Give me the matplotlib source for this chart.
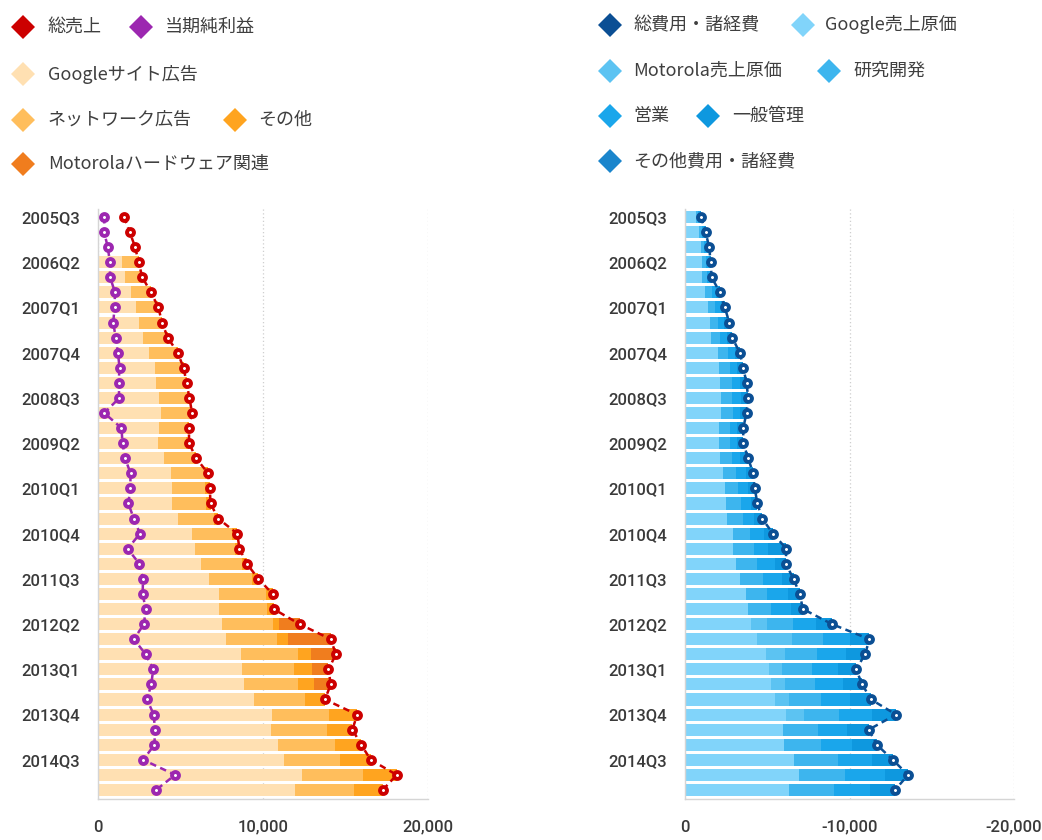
import numpy as np
import matplotlib
matplotlib.use("Agg")
import matplotlib.pyplot as plt
from matplotlib.ticker import FuncFormatter

# ---------------- data (USD millions) ----------------
quarters = ["2005Q3", "2005Q4", "2006Q1", "2006Q2", "2006Q3", "2006Q4",
            "2007Q1", "2007Q2", "2007Q3", "2007Q4", "2008Q1", "2008Q2",
            "2008Q3", "2008Q4", "2009Q1", "2009Q2", "2009Q3", "2009Q4",
            "2010Q1", "2010Q2", "2010Q3", "2010Q4", "2011Q1", "2011Q2",
            "2011Q3", "2011Q4", "2012Q1", "2012Q2", "2012Q3", "2012Q4",
            "2013Q1", "2013Q2", "2013Q3", "2013Q4", "2014Q1", "2014Q2",
            "2014Q3", "2014Q4", "2015Q1"]

total_revenue = [1578, 1919, 2254, 2456, 2690, 3206, 3664, 3872, 4231, 4827,
                 5186, 5367, 5541, 5701, 5509, 5523, 5945, 6674, 6775, 6820,
                 7286, 8440, 8575, 9026, 9720, 10584, 10645, 12214, 14101, 14419,
                 13969, 14105, 13754, 15707, 15420, 15955, 16523, 18103, 17258]
net_income = [381, 372, 592, 721, 733, 1031, 1002, 925, 1070, 1206,
              1307, 1247, 1290, 382, 1423, 1485, 1639, 1974, 1955, 1840,
              2167, 2543, 1798, 2505, 2729, 2705, 2890, 2785, 2176, 2886,
              3346, 3228, 2970, 3376, 3452, 3422, 2739, 4676, 3515]

google_sites = [None, None, None, 1430, 1630, 2030, 2320, 2470, 2740, 3120,
                3430, 3530, 3700, 3815, 3692, 3653, 4000, 4418, 4460, 4500,
                4830, 5670, 5880, 6230, 6740, 7330, 7350, 7540, 7740, 8670,
                8700, 8870, 9430, 10550, 10469, 10935, 11252, 12370, 11930]
network = [None, None, None, 999, 1030, 1140, 1300, 1360, 1430, 1620,
           1660, 1740, 1756, 1770, 1718, 1684, 1792, 2040, 2040, 2060,
           2200, 2470, 2430, 2480, 2600, 2830, 2880, 3090, 3090, 3430,
           3200, 3230, 3120, 3450, 3400, 3420, 3430, 3690, 3590]
other_rev = [None, None, None, 27, 30, 36, 44, 42, 61, 87,
             96, 97, 85, 116, 99, 186, 153, 216, 275, 260,
             256, 300, 265, 316, 380, 424, 415, 334, 695, 805,
             1051, 1007, 1204, 1707, 1551, 1600, 1841, 2043, 1738]
motorola_hw = [None, None, None, 0, 0, 0, 0, 0, 0, 0,
               0, 0, 0, 0, 0, 0, 0, 0, 0, 0,
               0, 0, 0, 0, 0, 0, 0, 1250, 2576, 1514,
               1018, 998, 0, 0, 0, 0, 0, 0, 0]

cogs_google = [669, 840, 950, 1010, 1040, 1230, 1420, 1500, 1590, 2010,
               2080, 2150, 2170, 2160, 2080, 2060, 2120, 2320, 2420, 2480,
               2530, 2930, 2940, 3130, 3330, 3680, 3800, 4000, 4400, 4900,
               5100, 5250, 5450, 6160, 5960, 6000, 6630, 6900, 6300]
cogs_motorola = [0, 0, 0, 0, 0, 0, 0, 0, 0, 0,
                 0, 0, 0, 0, 0, 0, 0, 0, 0, 0,
                 0, 0, 0, 0, 0, 0, 0, 1000, 2100, 1200,
                 800, 850, 900, 1100, 0, 0, 0, 0, 0]
rnd = [140, 180, 230, 255, 270, 390, 430, 520, 560, 600,
       640, 710, 710, 730, 650, 680, 720, 790, 820, 900,
       990, 1050, 1230, 1230, 1400, 1300, 1440, 1540, 1880, 1940,
       1840, 1810, 1890, 2130, 2130, 2240, 2660, 2810, 2750]
sales_mkt = [95, 125, 160, 165, 180, 270, 310, 380, 400, 420,
             470, 500, 520, 480, 440, 440, 520, 600, 600, 620,
             700, 840, 900, 1090, 1150, 1260, 1200, 1450, 1660, 1750,
             1590, 1700, 1820, 2000, 1730, 1940, 2100, 2450, 2170]
gen_admin = [66, 105, 130, 130, 130, 230, 260, 290, 320, 300,
             350, 380, 440, 370, 370, 360, 480, 430, 400, 400,
             470, 530, 1090, 670, 720, 730, 730, 940, 1170, 1160,
             1070, 1160, 1250, 1440, 1350, 1480, 1240, 1400, 1550]
other_cost = [0] * 39

rev_series = [("Googleサイト広告", google_sites, "#FFE0B2"),
              ("ネットワーク広告", network, "#FFBE5C"),
              ("その他", other_rev, "#FFA41F"),
              ("Motorolaハードウェア関連", motorola_hw, "#F07D1E")]
cost_series = [("Google売上原価", cogs_google, "#81D4FA"),
               ("Motorola売上原価", cogs_motorola, "#5CC3F2"),
               ("研究開発", rnd, "#3DB5EE"),
               ("営業", sales_mkt, "#1AA6EB"),
               ("一般管理", gen_admin, "#0E98DF"),
               ("その他費用・諸経費", other_cost, "#1A85CC")]

C_REV = "#CC0000"
C_NI = "#9C27B0"
C_COST = "#0B4F94"

# ---------------- figure ----------------
fig = plt.figure(figsize=(10.42, 8.4), dpi=100)
ax_bottom = 1 - 799 / 840
ax_h = (799 - 208.7) / 840
axL = fig.add_axes([98 / 1042, ax_bottom, 330 / 1042, ax_h])
axR = fig.add_axes([685 / 1042, ax_bottom, 329 / 1042, ax_h])

y = np.arange(len(quarters))
bar_h = 0.8
tick_font = dict(family=["Roboto", "DejaVu Sans"], size=12, weight="medium")


def clean(v):
    return np.array([0 if x is None else x for x in v], dtype=float)


# left panel: revenue
cum = np.zeros(len(y))
for name, vals, col in rev_series:
    v = clean(vals)
    axL.barh(y, v, left=cum, height=bar_h, color=col, linewidth=0, zorder=2)
    cum += v
line_kw = dict(linestyle=(0, (2.6, 1.8)), linewidth=1.8, marker="o",
               markersize=5.0, markeredgewidth=2.8, markerfacecolor="white",
               zorder=5)
axL.plot(net_income, y, color=C_NI, markeredgecolor=C_NI, **line_kw)
axL.plot(total_revenue, y, color=C_REV, markeredgecolor=C_REV, **line_kw)
axL.set_xlim(0, 20000)
axL.set_xticks([0, 10000, 20000])

# right panel: costs (negative direction)
cum = np.zeros(len(y))
for name, vals, col in cost_series:
    v = clean(vals)
    axR.barh(y, -v, left=-cum, height=bar_h, color=col, linewidth=0, zorder=2)
    cum += v
total_cost = cum.copy()
axR.plot(-total_cost, y, color=C_COST, markeredgecolor=C_COST, **line_kw)
axR.set_xlim(0, -20000)
axR.set_xticks([0, -10000, -20000])

fmt = FuncFormatter(lambda v, p: f"{v:,.0f}")
for ax in (axL, axR):
    ax.set_ylim(38.6, -0.55)
    ax.set_yticks(y[::3])
    ax.set_yticklabels(quarters[::3])
    ax.xaxis.set_major_formatter(fmt)
    ax.tick_params(axis="y", length=0, pad=13, labelcolor="#3a3a3a")
    ax.tick_params(axis="x", length=0, pad=15, labelcolor="#3a3a3a")
    for lab in ax.get_xticklabels() + ax.get_yticklabels():
        lab.set_fontfamily(tick_font["family"])
        lab.set_fontsize(tick_font["size"])
        lab.set_fontweight(tick_font["weight"])
    for s in ("top", "right"):
        ax.spines[s].set_visible(False)
    ax.spines["left"].set_color("#d5d5d5")
    ax.spines["bottom"].set_color("#d5d5d5")
    ax.spines["left"].set_linewidth(1.0)
    ax.spines["bottom"].set_linewidth(1.0)
    ax.grid(axis="x", linestyle=(0, (1, 2)), color="#cfcfcf", linewidth=0.9)
    ax.set_axisbelow(True)
    ax.set_facecolor("none")

# ---------------- legends ----------------
lg = fig.add_axes([0, 0, 1, 1])
lg.set_xlim(0, 1042)
lg.set_ylim(840, 0)
lg.axis("off")
legend_font = dict(family=["Noto Sans CJK JP", "DejaVu Sans"], size=13,
                   color="#3f3f3f", va="center", ha="left")

left_items = [("総売上", C_REV, 23, 48, 27), ("当期純利益", C_NI, 141, 165, 27),
              ("Googleサイト広告", rev_series[0][2], 23, 48, 74),
              ("ネットワーク広告", rev_series[1][2], 23, 48, 120),
              ("その他", rev_series[2][2], 235, 258, 120),
              ("Motorolaハードウェア関連", rev_series[3][2], 23, 48, 164)]
right_items = [("総費用・諸経費", C_COST, 610, 633, 25),
               ("Google売上原価", cost_series[0][2], 803, 825, 25),
               ("Motorola売上原価", cost_series[1][2], 610, 633, 71),
               ("研究開発", cost_series[2][2], 829, 853, 71),
               ("営業", cost_series[3][2], 610, 633, 116),
               ("一般管理", cost_series[4][2], 708, 732, 116),
               ("その他費用・諸経費", cost_series[5][2], 610, 633, 161)]
for label, col, mx, tx, ty in left_items + right_items:
    lg.plot([mx], [ty], marker="D", markersize=12.5, color=col,
            markeredgewidth=0, linestyle="none")
    lg.text(tx, ty, label, **legend_font)

fig.savefig("out.png", dpi=100, facecolor="white")
